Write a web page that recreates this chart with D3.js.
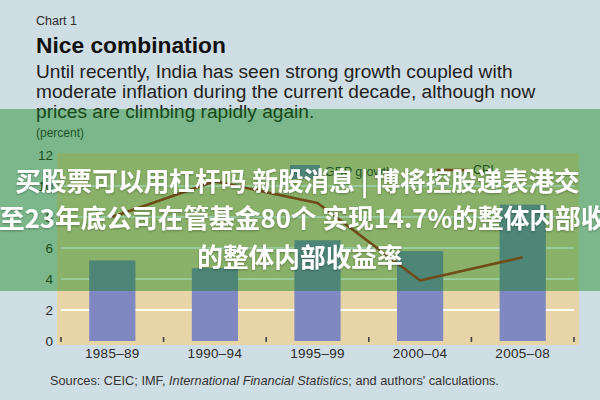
<!DOCTYPE html>
<html>
<head>
<meta charset="utf-8">
<script src="https://cdn.jsdelivr.net/npm/d3@7/dist/d3.min.js"></script>
<style>
  html, body { margin: 0; padding: 0; background: #cfdee4; }
  svg { display: block; }
</style>
</head>
<body>
<svg id="chart" width="600" height="400"></svg>
<script>
// ---- data ----
const categories = ["1985–89", "1990–94", "1995–99", "2000–04", "2005–08"];
const gdpGrowth = [5.2, 4.7, 6.5, 5.8, 8.8];
const cpi = [8.0, 10.3, 8.9, 3.9, 5.4];
const yTicks = [0, 2, 4, 6, 8, 10, 12];
const seriesNames = ["GDP growth", "CPI"];
const chartLabel = "Chart 1";
const titleText = "Nice combination";
const subtitleLines = [
  "Until recently, India has seen strong growth coupled with",
  "moderate inflation during the current decade, although now",
  "prices are climbing rapidly again."
];
const unitLabel = "(percent)";
const overlayLines = [
  "买股票可以用杠杆吗 新股消息 | 博将控股递表港交",
  "至23年底公司在管基金80个 实现14.7%的整体内部收",
  "的整体内部收益率"
];

// ---- drawing ----
const svg = d3.select("#chart");
const W = 600, H = 400;
const sans = "'Liberation Sans', Arial, sans-serif";

svg.append("rect").attr("width", W).attr("height", H).attr("fill", "#cfdee4");

function fitFont(sel, target, base) {
  const w = sel.node().getComputedTextLength();
  const fs = base * target / w;
  sel.attr("font-size", fs);
  return fs;
}

// header
svg.append("text").attr("x", 36).attr("y", 25)
  .attr("font-family", sans).attr("font-size", 12.5).attr("fill", "#2b2b2b")
  .text(chartLabel);

const t = svg.append("text").attr("x", 36).attr("y", 53)
  .attr("font-family", sans).attr("font-weight", "bold").attr("font-size", 20)
  .attr("fill", "#111").text(titleText);
fitFont(t, 190, 20);

const subG = svg.append("g");
const sub0 = subG.append("text").attr("x", 36).attr("y", 78)
  .attr("font-family", sans).attr("font-size", 16).attr("fill", "#222")
  .text(subtitleLines[0]);
const subFs = fitFont(sub0, 477, 16);
subtitleLines.slice(1).forEach((s, i) => {
  subG.append("text").attr("x", 36).attr("y", 98 + i * 20)
    .attr("font-family", sans).attr("font-size", subFs).attr("fill", "#222")
    .text(s);
});

svg.append("text").attr("x", 36).attr("y", 137)
  .attr("font-family", sans).attr("font-size", 12).attr("fill", "#333")
  .text(unitLabel);

// scales
const x = d3.scaleBand().domain(categories).range([61, 574])
  .paddingInner(0.55).paddingOuter(0.275);
const y = d3.scaleLinear().domain([0, 12]).range([341, 155]);

// plot background
svg.append("rect").attr("x", 57).attr("y", 153).attr("width", 522).attr("height", 192)
  .attr("fill", "#e7d4a7");

// gridlines
svg.append("g").selectAll("line").data(yTicks.filter(v => v > 0 && v < 12)).join("line")
  .attr("x1", 61).attr("x2", 574)
  .attr("y1", d => y(d)).attr("y2", d => y(d))
  .attr("stroke", "#ffffff").attr("stroke-width", 2);

// bars
svg.append("g").selectAll("rect").data(gdpGrowth).join("rect")
  .attr("x", (d, i) => x(categories[i]))
  .attr("y", d => y(d))
  .attr("width", x.bandwidth())
  .attr("height", d => y(0) - y(d))
  .attr("fill", "#7f88c0");

// CPI line
const line = d3.line()
  .x((d, i) => x(categories[i]) + x.bandwidth() / 2)
  .y(d => y(d));
svg.append("path").datum(cpi).attr("d", line)
  .attr("fill", "none").attr("stroke", "#b8261c").attr("stroke-width", 2.6)
  .attr("stroke-linejoin", "round");

// legend
const leg = svg.append("g");
leg.append("rect").attr("x", 290).attr("y", 165).attr("width", 30).attr("height", 14)
  .attr("fill", "#7f88c0");
leg.append("text").attr("x", 325).attr("y", 176)
  .attr("font-family", sans).attr("font-size", 12.5).attr("fill", "#333")
  .text(seriesNames[0]);
leg.append("line").attr("x1", 437).attr("x2", 468).attr("y1", 170).attr("y2", 170)
  .attr("stroke", "#b8261c").attr("stroke-width", 2.6);
leg.append("text").attr("x", 473).attr("y", 174)
  .attr("font-family", sans).attr("font-size", 12.5).attr("fill", "#333")
  .text(seriesNames[1]);

// y axis
const yAxis = svg.append("g").attr("transform", "translate(53,0)")
  .call(d3.axisLeft(y).tickValues(yTicks).tickSize(0).tickPadding(0));
yAxis.select(".domain").remove();
yAxis.selectAll("text").attr("font-family", sans).attr("font-size", 13.5)
  .attr("fill", "#2a2a2a");

// x axis labels
const xAxis = svg.append("g").attr("transform", "translate(0,345)")
  .call(d3.axisBottom(x).tickSize(0).tickPadding(3));
xAxis.select(".domain").remove();
xAxis.selectAll("text").attr("font-family", sans).attr("font-size", 13.5)
  .attr("fill", "#2a2a2a").attr("letter-spacing", 0.3);

// band boundary tick marks
const bounds = d3.range(categories.length + 1).map(i => x.range()[0] + i * x.step());
svg.append("g").selectAll("line").data(bounds).join("line")
  .attr("x1", d => d).attr("x2", d => d).attr("y1", 337).attr("y2", 342)
  .attr("stroke", "#444").attr("stroke-width", 1.6);

// sources
const src = svg.append("text").attr("x", 50).attr("y", 385)
  .attr("font-family", sans).attr("font-size", 11).attr("fill", "#333");
src.append("tspan").text("Sources: CEIC; IMF, ");
src.append("tspan").attr("font-style", "italic").text("International Financial Statistics");
src.append("tspan").text("; and authors' calculations.");
fitFont(src, 449, 11);

// green overlay band
svg.append("rect").attr("x", 0).attr("y", 109).attr("width", W).attr("height", 182)
  .attr("fill", "rgb(10,128,20)").attr("fill-opacity", 0.42);

// overlay white text
const defs = svg.append("defs");
const f = defs.append("filter").attr("id", "sh").attr("x", "-5%").attr("y", "-20%")
  .attr("width", "110%").attr("height", "140%");
f.append("feDropShadow").attr("dx", 0).attr("dy", 1).attr("stdDeviation", 1)
  .attr("flood-color", "#000").attr("flood-opacity", 0.3);

const cjk = "'Noto Sans CJK SC', 'Noto Sans', sans-serif";
const l1 = svg.append("text").attr("x", 297.5).attr("y", 191)
  .attr("text-anchor", "middle").attr("font-family", cjk).attr("font-weight", 700)
  .attr("font-size", 25).attr("fill", "#fff").attr("filter", "url(#sh)")
  .text(overlayLines[0]);
const cfs = fitFont(l1, 565, 25);
svg.append("text").attr("x", -1).attr("y", 228)
  .attr("font-family", cjk).attr("font-weight", 700)
  .attr("font-size", cfs).attr("fill", "#fff").attr("filter", "url(#sh)")
  .text(overlayLines[1]);
svg.append("text").attr("x", 300).attr("y", 267)
  .attr("text-anchor", "middle").attr("font-family", cjk).attr("font-weight", 700)
  .attr("font-size", cfs).attr("fill", "#fff").attr("filter", "url(#sh)")
  .text(overlayLines[2]);
</script>
</body>
</html>
